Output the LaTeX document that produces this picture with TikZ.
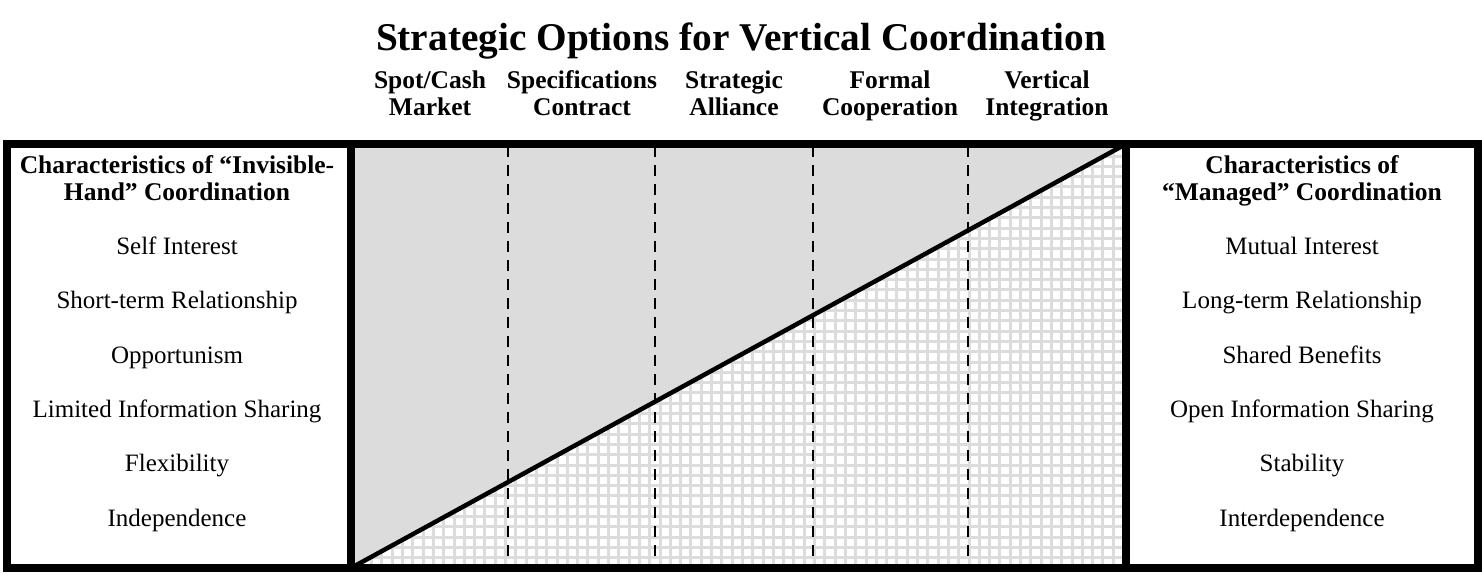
\documentclass[tikz,border=0pt]{standalone}
\usepackage{fontspec}
\setmainfont{Liberation Serif}
\definecolor{panelgray}{RGB}{220,220,220}
\begin{document}
\begin{tikzpicture}[x=1pt,y=-1pt,
  colhead/.style={font=\fontsize{25.5}{27}\selectfont\bfseries, align=center, inner sep=0pt, anchor=base},
  sidehead/.style={font=\fontsize{25.5}{27}\selectfont\bfseries, align=center, inner sep=0pt, anchor=base},
  item/.style={font=\fontsize{25}{28}\selectfont, inner sep=0pt, anchor=base},
  divider/.style={line width=2pt, dash pattern=on 11pt off 8pt},
  thick border/.style={line width=8.5pt},
  gridline/.style={draw=panelgray, line width=3pt}]
\useasboundingbox (0,0) rectangle (1482,573);
% coordinates
\coordinate (BL) at (351,568);
\coordinate (TR) at (1126,144);
\coordinate (BR) at (1126,568);
\coordinate (TL) at (351,144);
% shaded area
\fill[panelgray] (TL) rectangle (BR);
\begin{scope}
  \clip (BL) -- (TR) -- (BR) -- cycle;
  \fill[white] (TL) rectangle (BR);
  \foreach \x in {0,...,76} \draw[gridline] (351+\x*10.3,144) -- (351+\x*10.3,568);
  \foreach \y in {0,...,42} \draw[gridline] (351,568-\y*10.3) -- (1126,568-\y*10.3);
\end{scope}
% dashed dividers
\foreach \x/\n in {508/d1,655/d2,813/d3,968/d4} {
  \coordinate (\n t) at (\x,146);
  \coordinate (\n b) at (\x,566);
  \draw[divider] (\n t) -- (\n b);
}
% diagonal
\draw[line width=4.5pt] (BL) -- (TR);
% frame
\draw[thick border] (7,144) rectangle (1478,568);
\draw[thick border] (351,144) -- (351,568);
\draw[thick border] (1126,144) -- (1126,568);
% title
\node[font=\fontsize{39.3}{44}\selectfont\bfseries, inner sep=0pt, anchor=base] (title) at (741,50) {Strategic Options for Vertical Coordination};
% column headers (anchor = baseline of last line)
\node[colhead] (c1) at (430,115) {Spot/Cash\\Market};
\node[colhead] (c2) at (582,115) {Specifications\\Contract};
\node[colhead] (c3) at (734,115) {Strategic\\Alliance};
\node[colhead] (c4) at (890,115) {Formal\\Cooperation};
\node[colhead] (c5) at (1047,115) {Vertical\\Integration};
% left panel
\node[sidehead] (lh) at (177,200) {Characteristics of ``Invisible-\\Hand'' Coordination};
\node[item] (l1) at (177,254) {Self Interest};
\node[item] (l2) at (177,308.5) {Short-term Relationship};
\node[item] (l3) at (177,363) {Opportunism};
\node[item] (l4) at (177,417.3) {Limited Information Sharing};
\node[item] (l5) at (177,471.7) {Flexibility};
\node[item] (l6) at (177,526) {Independence};
% right panel
\node[sidehead] (rh) at (1302,200) {Characteristics of\\``Managed'' Coordination};
\node[item] (r1) at (1302,254) {Mutual Interest};
\node[item] (r2) at (1302,308.5) {Long-term Relationship};
\node[item] (r3) at (1302,363) {Shared Benefits};
\node[item] (r4) at (1302,417.3) {Open Information Sharing};
\node[item] (r5) at (1302,471.7) {Stability};
\node[item] (r6) at (1302,526) {Interdependence};
\end{tikzpicture}
\end{document}
